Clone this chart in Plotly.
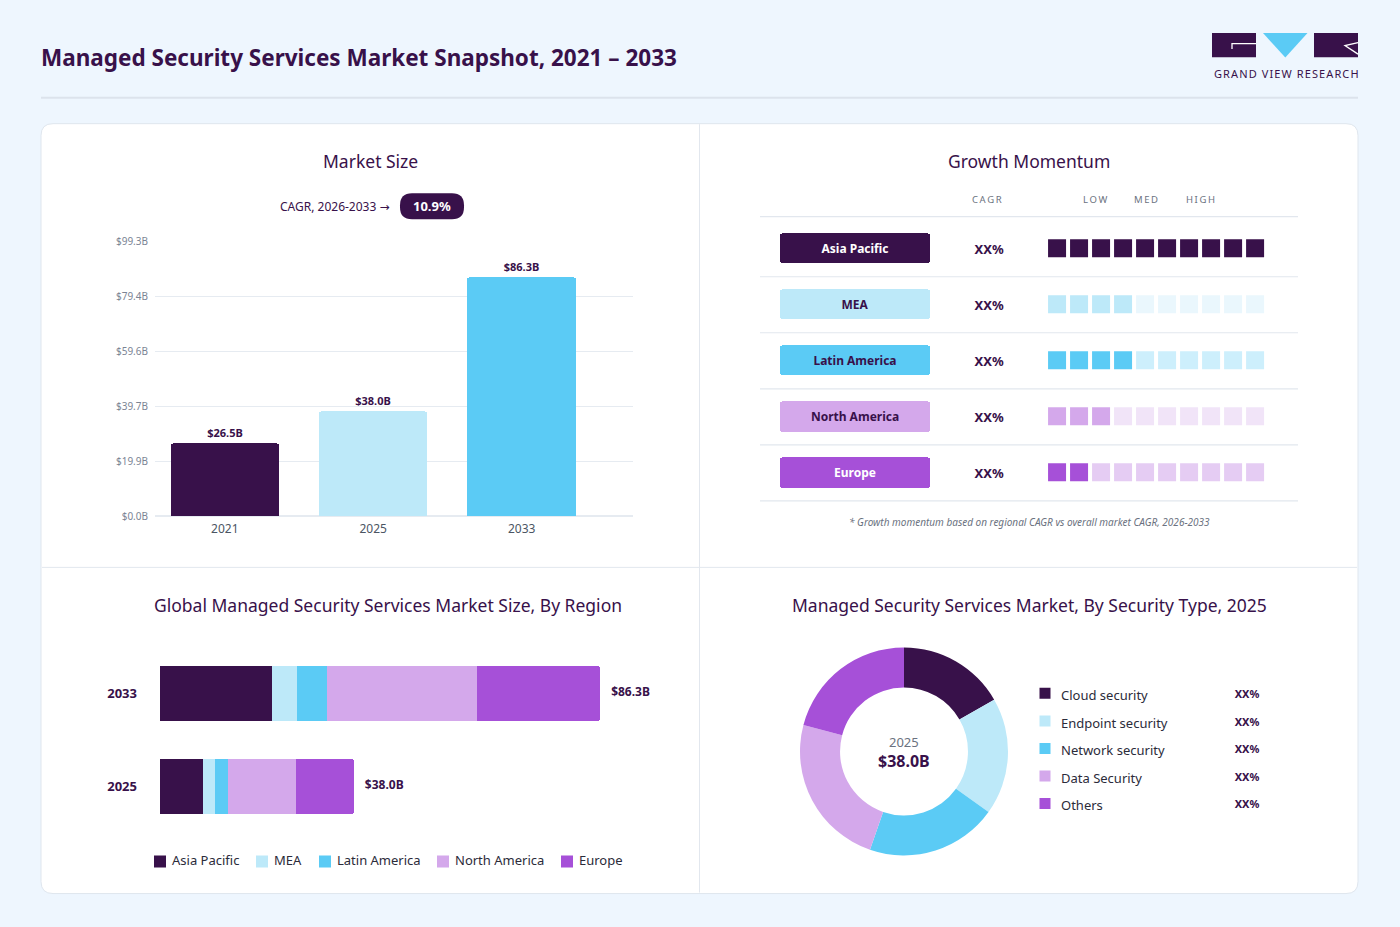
import plotly.graph_objects as go

W, H = 1400, 927
# vertical calibration of the rendered page (page -> picture)
SY, OY = 0.9844, 6.9

# ---------------- data ----------------
years = ["2021", "2025", "2033"]
market_size = [26.5, 38.0, 86.3]
size_ticks = [0.0, 19.9, 39.7, 59.6, 79.4, 99.3]
size_tick_labels = ["$0.0B", "$19.9B", "$39.7B", "$59.6B", "$79.4B", "$99.3B"]
cagr_value = "10.9%"

regions = ["Asia Pacific", "MEA", "Latin America", "North America", "Europe"]
region_years = ["2025", "2033"]
region_2025 = [8.5, 2.2, 2.7, 13.3, 11.3]
region_2033 = [22.0, 4.8, 6.0, 29.3, 24.2]
region_totals = [38.0, 86.3]

momentum_cagr = ["XX%", "XX%", "XX%", "XX%", "XX%"]
momentum_level = [10, 4, 4, 3, 2]
momentum_slots = list(range(1, 11))

security_types = ["Cloud security", "Endpoint security", "Network security", "Data Security", "Others"]
security_share = [16.7, 18.2, 20.4, 23.8, 20.9]
security_pct_labels = ["XX%", "XX%", "XX%", "XX%", "XX%"]

# ---------------- style ----------------
DARK = "#38114A"
region_colors = ["#38114A", "#BDE9F9", "#5BCBF5", "#D4A8EB", "#A650D8"]
region_faded = ["#38114A", "#EAF7FD", "#CDEFFC", "#F1E4F8", "#E5CCF3"]
pill_text_colors = ["#FFFFFF", DARK, DARK, DARK, "#FFFFFF"]
year_colors = ["#38114A", "#BDE9F9", "#5BCBF5"]
FONT = "Noto Sans"
GRID = "#E6EBF1"
LINE = "#E2E7EE"
GRAY = "#6B7280"
PAGE_BG = "#EEF6FE"
# legend swatch/text anchors (page px) for the region legend
region_legend_text_x = [172, 274, 337, 455, 579]


def px(x):
    return x / W


def py(y):
    return 1 - ((y - OY) / SY) / H


def rrect(x0, y0, x1, y1, r):
    rx, ry = r / W, r / (H * SY)
    X0, X1 = px(x0), px(x1)
    Y0, Y1 = py(y0), py(y1)  # Y0 top, Y1 bottom
    return (f"M{X0+rx},{Y0} L{X1-rx},{Y0} Q{X1},{Y0} {X1},{Y0-ry} "
            f"L{X1},{Y1+ry} Q{X1},{Y1} {X1-rx},{Y1} L{X0+rx},{Y1} "
            f"Q{X0},{Y1} {X0},{Y1+ry} L{X0},{Y0-ry} Q{X0},{Y0} {X0+rx},{Y0} Z")


fig = go.Figure()

# ---------- Market size bars (x / y) ----------
fig.add_trace(go.Bar(
    x=years, y=market_size, marker=dict(color=year_colors, line=dict(width=0)),
    width=0.73, text=[f"${v:.1f}B" for v in market_size], textposition="outside",
    textfont=dict(family=FONT, size=11, color=DARK, weight="bold"), cliponaxis=False,
    showlegend=False, hoverinfo="skip", xaxis="x", yaxis="y"))

# ---------- Growth momentum table (x2 / y2) ----------
fig.add_trace(go.Bar(
    y=regions, x=[6.82] * len(regions), base=-11.59, orientation="h", width=0.55,
    marker=dict(color=region_colors, line=dict(width=0)),
    text=regions, textposition="inside", insidetextanchor="middle",
    textfont=dict(family=FONT, size=12, color=pill_text_colors, weight="bold"),
    showlegend=False, hoverinfo="skip", xaxis="x2", yaxis="y2"))
fig.add_trace(go.Scatter(
    y=regions, x=[-2.09] * len(regions), mode="text", text=momentum_cagr,
    textfont=dict(family=FONT, size=13, color=DARK, weight="bold"),
    showlegend=False, hoverinfo="skip", xaxis="x6", yaxis="y6"))
sq_x, sq_y, sq_c = [], [], []
for i, r in enumerate(regions):
    for s in momentum_slots:
        sq_x.append(s)
        sq_y.append(r)
        sq_c.append(region_colors[i] if s <= momentum_level[i] else region_faded[i])
fig.add_trace(go.Scatter(
    x=sq_x, y=sq_y, mode="markers",
    marker=dict(symbol="square", size=18, color=sq_c, line=dict(width=0)),
    showlegend=False, hoverinfo="skip", xaxis="x2", yaxis="y2"))

# ---------- Region stacked bars (x3 / y3) ----------
for i, r in enumerate(regions):
    fig.add_trace(go.Bar(
        y=region_years, x=[region_2025[i], region_2033[i]], orientation="h", width=0.6,
        name=r, marker=dict(color=region_colors[i], line=dict(width=0)),
        showlegend=False, hoverinfo="skip", xaxis="x3", yaxis="y3"))
fig.add_trace(go.Scatter(
    y=region_years, x=region_totals, mode="markers+text",
    marker=dict(size=16, opacity=0),
    text=[f"${v:.1f}B" for v in region_totals], textposition="middle right",
    textfont=dict(family=FONT, size=12, color=DARK, weight="bold"), cliponaxis=False,
    showlegend=False, hoverinfo="skip", xaxis="x3", yaxis="y3"))

# region legend (x5 / y5, x in page px)
fig.add_trace(go.Scatter(
    x=[t - 12 for t in region_legend_text_x], y=[0] * len(regions), mode="markers",
    marker=dict(symbol="square", size=12, color=region_colors, line=dict(width=0)),
    showlegend=False, hoverinfo="skip", xaxis="x5", yaxis="y5"))
fig.add_trace(go.Scatter(
    x=region_legend_text_x, y=[0] * len(regions), mode="text", text=regions,
    textposition="middle right", textfont=dict(family=FONT, size=13, color="#2B2B3A"),
    showlegend=False, hoverinfo="skip", xaxis="x5", yaxis="y5", cliponaxis=False))

# ---------- Donut ----------
fig.add_trace(go.Pie(
    values=security_share, labels=security_types, hole=0.615, sort=False,
    direction="clockwise", rotation=0, textinfo="none",
    marker=dict(colors=region_colors, line=dict(width=0)),
    domain=dict(x=[px(800), px(1008)], y=[py(855), py(647)]),
    showlegend=False, hoverinfo="skip"))

# donut legend (x4 / y4)
idx = list(range(len(security_types)))
fig.add_trace(go.Scatter(
    x=[0.06] * len(idx), y=[k - 0.13 for k in idx], mode="markers",
    marker=dict(symbol="square", size=11, color=region_colors, line=dict(width=0)),
    showlegend=False, hoverinfo="skip", xaxis="x4", yaxis="y4"))
fig.add_trace(go.Scatter(
    x=[0.124] * len(idx), y=idx, mode="text", text=security_types,
    textposition="middle right", textfont=dict(family=FONT, size=13, color="#2B2B3A"),
    showlegend=False, hoverinfo="skip", xaxis="x4", yaxis="y4"))
fig.add_trace(go.Scatter(
    x=[0.868] * len(idx), y=[k - 0.05 for k in idx], mode="text", text=security_pct_labels,
    textposition="middle center", textfont=dict(family=FONT, size=11, color=DARK, weight="bold"),
    showlegend=False, hoverinfo="skip", xaxis="x4", yaxis="y4"))

# ---------------- shapes ----------------
shapes = []
shapes.append(dict(type="path", xref="paper", yref="paper", path=rrect(41, 123.5, 1358, 893, 12),
                   fillcolor="#FFFFFF", line=dict(color="#DFE6EE", width=1), layer="below"))
shapes.append(dict(type="line", xref="paper", yref="paper", x0=px(41), x1=px(1358), y0=py(97.5), y1=py(97.5),
                   line=dict(color="#DCE3EC", width=2), layer="below"))
shapes.append(dict(type="line", xref="paper", yref="paper", x0=px(699.5), x1=px(699.5), y0=py(124), y1=py(892),
                   line=dict(color=LINE, width=1), layer="below"))
shapes.append(dict(type="line", xref="paper", yref="paper", x0=px(42), x1=px(1357), y0=py(567), y1=py(567),
                   line=dict(color=LINE, width=1), layer="below"))
for yy in [216.5, 276.5, 332.5, 388.5, 444.5, 500.5]:
    shapes.append(dict(type="line", xref="paper", yref="paper", x0=px(760), x1=px(1298), y0=py(yy), y1=py(yy),
                       line=dict(color=LINE, width=1.2), layer="below"))
shapes.append(dict(type="path", xref="paper", yref="paper", path=rrect(400, 193, 464, 219, 12),
                   fillcolor=DARK, line=dict(width=0)))
# logo
shapes.append(dict(type="rect", xref="paper", yref="paper", x0=px(1212), x1=px(1256), y0=py(57), y1=py(33),
                   fillcolor=DARK, line=dict(width=0)))
shapes.append(dict(type="path", xref="paper", yref="paper",
                   path=f"M{px(1256)},{py(43.5)} L{px(1232)},{py(43.5)} L{px(1232)},{py(49)}",
                   line=dict(color="#FFFFFF", width=1.3)))
shapes.append(dict(type="path", xref="paper", yref="paper",
                   path=f"M{px(1263)},{py(33)} L{px(1307.5)},{py(33)} L{px(1285.3)},{py(57.3)} Z",
                   fillcolor="#5BCBF5", line=dict(width=0)))
shapes.append(dict(type="rect", xref="paper", yref="paper", x0=px(1314), x1=px(1358), y0=py(57), y1=py(33),
                   fillcolor=DARK, line=dict(width=0)))
shapes.append(dict(type="path", xref="paper", yref="paper",
                   path=f"M{px(1358)},{py(42.5)} L{px(1345)},{py(45.5)} L{px(1358)},{py(54)}",
                   line=dict(color="#FFFFFF", width=1.3)))

# ---------------- annotations ----------------
ann = []


def add_text(x, y, text, size, color=DARK, bold=False, xanchor="center", italic=False):
    ann.append(dict(xref="paper", yref="paper", x=px(x), y=py(y), text=text, showarrow=False,
                    xanchor=xanchor, yanchor="middle",
                    font=dict(family=FONT, size=size, color=color, weight="bold" if bold else "normal",
                              style="italic" if italic else "normal")))


add_text(38.5, 57, "Managed Security Services Market Snapshot, 2021 – 2033", 22.5, bold=True, xanchor="left")
add_text(1286, 73, "\u200a".join("GRAND VIEW RESEARCH"), 11, color=DARK)
add_text(370, 161, "Market Size", 17.5)
add_text(1029, 161, "Growth Momentum", 17.5)
add_text(388, 605, "Global Managed Security Services Market Size, By Region", 17.5)
add_text(1029, 605, "Managed Security Services Market, By Security Type, 2025", 17.5)
add_text(392, 206, "CAGR, 2026-2033 <span style='font-family:DejaVu Sans;font-size:12px'>\u2192</span>",
         12, xanchor="right")
add_text(432, 206, cagr_value, 13, color="#FFFFFF", bold=True)
for lbl, xx in [("CAGR", 987), ("LOW", 1095), ("MED", 1146), ("HIGH", 1200)]:
    add_text(xx, 199.5, "\u2009".join(lbl), 9.5, color=GRAY)
add_text(1029, 522, "* Growth momentum based on regional CAGR vs overall market CAGR, 2026-2033", 10,
         color=GRAY, italic=True)
add_text(904, 742, "2025", 13, color=GRAY)
add_text(904, 761, "$38.0B", 16, bold=True)

hidden = dict(visible=False, fixedrange=True)

fig.update_layout(
    width=W, height=H, autosize=False, margin=dict(l=0, r=0, t=0, b=0),
    paper_bgcolor=PAGE_BG, plot_bgcolor="rgba(0,0,0,0)",
    font=dict(family=FONT, color=DARK), showlegend=False,
    barmode="stack", barcornerradius=3, bargap=0,
    shapes=shapes, annotations=ann,
    xaxis=dict(domain=[px(155), px(633)], type="category", range=[-0.47, 2.75],
               showgrid=False, showline=False, ticks="", ticklabelstandoff=4,
               tickfont=dict(family=FONT, size=12, color="#4B5563"), fixedrange=True),
    yaxis=dict(domain=[py(516), py(241)], range=[0, 99.32], tickvals=size_ticks, ticktext=size_tick_labels,
               showgrid=True, gridcolor=GRID, gridwidth=1, zeroline=True, zerolinecolor=GRID,
               showline=False, ticks="", ticklabelstandoff=6,
               tickfont=dict(family=FONT, size=10, color="#7B8494"), fixedrange=True),
    xaxis2=dict(domain=[px(760), px(1298)], range=[-12.5, 11.95], anchor="y2", **hidden),
    yaxis2=dict(domain=[py(500), py(220)], type="category", categoryorder="array", categoryarray=regions,
                range=[4.5, -0.5], anchor="x2", **hidden),
    # same table grid, shifted 2px down for the CAGR text column
    xaxis6=dict(domain=[px(760), px(1298)], range=[-12.5, 11.95], anchor="y6", **hidden),
    yaxis6=dict(domain=[py(502.5), py(222.5)], type="category", categoryorder="array", categoryarray=regions,
                range=[4.5, -0.5], anchor="x6", **hidden),
    xaxis3=dict(domain=[px(160), px(660)], range=[0, 98.04], anchor="y3", **hidden),
    yaxis3=dict(domain=[py(832.5), py(646.5)], type="category", categoryorder="array",
                categoryarray=region_years, range=[-0.5, 1.5], anchor="x3",
                showgrid=False, showline=False, zeroline=False, ticks="", ticklabelstandoff=22,
                tickfont=dict(family=FONT, size=13, color=DARK, weight="bold"), fixedrange=True),
    xaxis4=dict(domain=[px(1030), px(1280)], range=[0, 1], anchor="y4", **hidden),
    yaxis4=dict(domain=[py(820.25), py(682.75)], range=[4.5, -0.5], anchor="x4", **hidden),
    xaxis5=dict(domain=[0, 1], range=[0, W], anchor="y5", **hidden),
    yaxis5=dict(domain=[py(871), py(851)], range=[-1, 1], anchor="x5", **hidden),
)

fig.write_html(
    "out.html",
    config={"displayModeBar": False},
    post_script=(f"document.documentElement.style.margin='0';document.body.style.margin='0';"
                 f"document.body.style.background='{PAGE_BG}';document.body.style.overflow='hidden';"),
)
